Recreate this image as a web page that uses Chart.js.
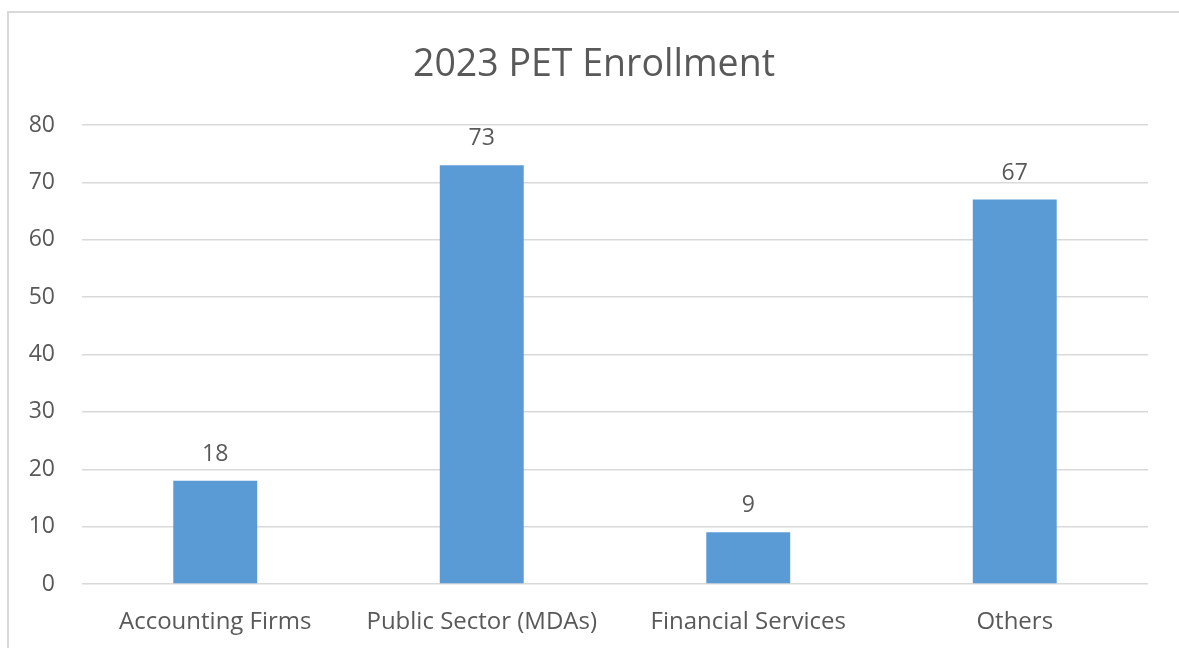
<!DOCTYPE html>
<html><head><meta charset="utf-8">
<script src="https://cdn.jsdelivr.net/npm/chart.js@4"></script>
<style>
html,body{margin:0;padding:0;background:#fff;overflow:hidden;}
#frame{position:absolute;left:7px;top:11px;width:1200px;height:700px;border:2px solid #d9d9d9;box-sizing:border-box;}
#wrap{position:absolute;left:0;top:0;width:1179px;height:648px;}
</style></head>
<body>
<div id="frame"></div>
<div id="wrap"><canvas id="c" width="1179" height="648"></canvas></div>
<script>
const categories = ["Accounting Firms", "Public Sector (MDAs)", "Financial Services", "Others"];
const enrollment = [18, 73, 9, 67];
const chartTitle = "2023 PET Enrollment";
const yTicks = [0, 10, 20, 30, 40, 50, 60, 70, 80];

const FONT = "'Open Sans', 'Noto Sans', sans-serif";
const TXT = "#595959";

const valueLabels = {
  id: 'valueLabels',
  afterDatasetsDraw(chart) {
    const ctx = chart.ctx;
    ctx.save();
    ctx.font = "23px " + FONT;
    ctx.fillStyle = TXT;
    ctx.textAlign = "center";
    ctx.textBaseline = "alphabetic";
    chart.getDatasetMeta(0).data.forEach((bar, i) => {
      ctx.fillText(String(chart.data.datasets[0].data[i]), bar.x, bar.y - 20);
    });
    ctx.restore();
  }
};

// centre the title over the whole frame rather than the padded box
const titleShift = {
  id: 'titleShift',
  afterLayout(chart) {
    const t = chart.titleBlock;
    if (t) { t.left += 20; t.right += 20; }
  }
};

new Chart(document.getElementById('c'), {
  type: 'bar',
  data: {
    labels: categories,
    datasets: [{
      data: enrollment,
      backgroundColor: '#5b9bd5',
      categoryPercentage: 1,
      barPercentage: 0.315
    }]
  },
  options: {
    responsive: false,
    animation: false,
    devicePixelRatio: 1,
    layout: { padding: { left: 0, right: 31, top: 0, bottom: 0 } },
    plugins: {
      legend: { display: false },
      tooltip: { enabled: false },
      title: {
        display: true,
        text: chartTitle,
        color: TXT,
        font: { family: FONT, size: 37.5, weight: 'normal' },
        padding: { top: 43, bottom: 37 }
      }
    },
    scales: {
      x: {
        grid: { display: false, drawTicks: false },
        border: { display: false },
        ticks: { color: TXT, font: { family: FONT, size: 24 }, padding: 24, maxRotation: 0 },
        afterFit(s) { s.height = 64; }
      },
      y: {
        min: 0, max: 80,
        afterBuildTicks(s) { s.ticks = yTicks.map(v => ({ value: v })); },
        grid: { color: '#d9d9d9', lineWidth: 1.5, drawTicks: false },
        border: { display: false },
        ticks: { color: TXT, font: { family: FONT, size: 23 }, padding: 27 },
        afterFit(s) { s.width = 82; }
      }
    }
  },
  plugins: [valueLabels, titleShift]
});
</script>
</body></html>
